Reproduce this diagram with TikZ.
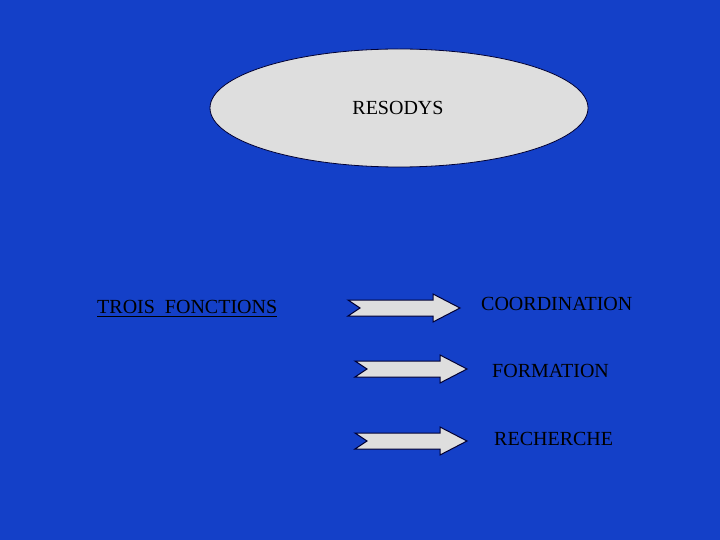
\documentclass[tikz,border=0pt]{standalone}
\usepackage{fontspec}
\setmainfont{Liberation Serif}
\definecolor{bgblue}{RGB}{20,64,200}
\tikzset{
  label/.style={font=\fontsize{20}{24}\selectfont, text=black, inner sep=0pt},
  bigarrow/.style={fill=black!13, draw=black!80!blue, line width=1pt}
}
\begin{document}
\begin{tikzpicture}[x=1pt,y=-1pt]
\fill[bgblue] (0,0) rectangle (720,540);
\useasboundingbox (0,0) rectangle (720,540);

\draw[fill=black!13, draw=black!80!blue, thick] (399,108) ellipse [x radius=189, y radius=59];
\node[label] (resodys) at (398,108) {RESODYS};

\node[label, anchor=west] (trois) at (97,307) {TROIS\ \ FONCTIONS};
\draw[line width=1pt] ([yshift=-3pt]trois.south west) -- ([yshift=-3pt]trois.south east);

% arrows: start x, centre y
\foreach \x/\y in {348/308, 355/369, 355/441}{
  \draw[bigarrow] (\x,\y-8) -- (\x+85,\y-8) -- (\x+85,\y-14) -- (\x+112,\y)
    -- (\x+85,\y+14) -- (\x+85,\y+8) -- (\x,\y+8) -- (\x+12,\y) -- cycle;
}

\node[label, anchor=west] (coord) at (481,304) {COORDINATION};
\node[label, anchor=west] (form) at (492,371) {FORMATION};
\node[label, anchor=west] (rech) at (494,439) {RECHERCHE};
\end{tikzpicture}
\end{document}
